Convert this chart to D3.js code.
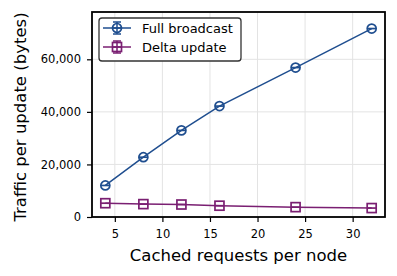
<!DOCTYPE html>
<html>
<head>
<meta charset="utf-8">
<script src="https://cdn.jsdelivr.net/npm/d3@7"></script>
<style>
  body { margin: 0; background: #fff; }
  text { font-family: "DejaVu Sans", sans-serif; }
</style>
</head>
<body>
<div id="chart"></div>
<script>
var requests = [4, 8, 12, 16, 24, 32];
var fullBroadcast = [12000, 22750, 32950, 42200, 56850, 71700];
var deltaUpdate = [5250, 4900, 4750, 4300, 3750, 3400];
var xTicks = [5, 10, 15, 20, 25, 30];
var yTicks = [0, 20000, 40000, 60000];
var seriesNames = ["Full broadcast", "Delta update"];

var w = 397, h = 276;
var plotLeft = 92, plotRight = 385, plotTop = 12, plotBottom = 217;

var blue = "#1f4e8f";
var purple = "#7a1f72";

var svg = d3.select("#chart").append("svg")
    .attr("width", w)
    .attr("height", h);

var x = d3.scaleLinear().domain([2.6, 33.4]).range([plotLeft, plotRight]);
var y = d3.scaleLinear().domain([0, 78000]).range([plotBottom, plotTop]);

// grid
svg.append("g").selectAll("line")
    .data(xTicks).enter().append("line")
    .attr("x1", function(d) { return x(d); })
    .attr("x2", function(d) { return x(d); })
    .attr("y1", plotTop).attr("y2", plotBottom)
    .attr("stroke", "#e3e3e3").attr("stroke-width", 1);
svg.append("g").selectAll("line")
    .data(yTicks).enter().append("line")
    .attr("x1", plotLeft).attr("x2", plotRight)
    .attr("y1", function(d) { return y(d); })
    .attr("y2", function(d) { return y(d); })
    .attr("stroke", "#e3e3e3").attr("stroke-width", 1);

// axes
var xAxis = svg.append("g")
    .attr("transform", "translate(0," + plotBottom + ")")
    .call(d3.axisBottom(x).tickValues(xTicks).tickSize(5).tickPadding(8));
var yAxis = svg.append("g")
    .attr("transform", "translate(" + plotLeft + ",0)")
    .call(d3.axisLeft(y).tickValues(yTicks).tickSize(5).tickPadding(6).tickFormat(d3.format(",")));
[xAxis, yAxis].forEach(function(a) {
    a.select(".domain").remove();
    a.selectAll("line").attr("stroke", "#000").attr("stroke-width", 1.2);
    a.selectAll("text").attr("fill", "#000").style("font-size", "11.5px");
});

// frame
svg.append("rect")
    .attr("x", plotLeft).attr("y", plotTop)
    .attr("width", plotRight - plotLeft).attr("height", plotBottom - plotTop)
    .attr("fill", "none").attr("stroke", "#000").attr("stroke-width", 1.8);

function drawMarker(g, color, shape) {
    if (shape == "circle") {
        g.append("circle").attr("r", 4.5)
            .attr("fill", "none").attr("stroke", color).attr("stroke-width", 1.7);
    } else {
        g.append("rect").attr("x", -4.5).attr("y", -4.5)
            .attr("width", 9).attr("height", 9)
            .attr("fill", "none").attr("stroke", color).attr("stroke-width", 1.7);
    }
    g.append("line").attr("x1", -4.5).attr("x2", 4.5)
        .attr("y1", 0).attr("y2", 0)
        .attr("stroke", color).attr("stroke-width", 1.7);
}

function drawSeries(vals, color, shape) {
    var line = d3.line()
        .x(function(d, i) { return x(requests[i]); })
        .y(function(d) { return y(d); });
    svg.append("path")
        .datum(vals)
        .attr("d", line)
        .attr("fill", "none")
        .attr("stroke", color)
        .attr("stroke-width", 1.5);
    var g = svg.append("g").selectAll("g")
        .data(vals).enter().append("g")
        .attr("transform", function(d, i) { return "translate(" + x(requests[i]) + "," + y(d) + ")"; });
    drawMarker(g, color, shape);
}

drawSeries(fullBroadcast, blue, "circle");
drawSeries(deltaUpdate, purple, "square");

// legend
var lg = svg.append("g");
lg.append("rect")
    .attr("x", 99).attr("y", 18)
    .attr("width", 142).attr("height", 43)
    .attr("rx", 3)
    .attr("fill", "#fff").attr("stroke", "#333").attr("stroke-width", 1.3);
var colors = [blue, purple];
var shapes = ["circle", "square"];
seriesNames.forEach(function(name, i) {
    var yy = 28 + i * 19;
    lg.append("line")
        .attr("x1", 103).attr("x2", 131)
        .attr("y1", yy).attr("y2", yy)
        .attr("stroke", colors[i]).attr("stroke-width", 1.5);
    var m = lg.append("g").attr("transform", "translate(117," + yy + ")");
    drawMarker(m, colors[i], shapes[i]);
    m.append("line").attr("x1", 0).attr("x2", 0).attr("y1", -6).attr("y2", 6)
        .attr("stroke", colors[i]).attr("stroke-width", 1.5);
    m.append("line").attr("x1", -4).attr("x2", 4).attr("y1", -6).attr("y2", -6)
        .attr("stroke", colors[i]).attr("stroke-width", 1.5);
    m.append("line").attr("x1", -4).attr("x2", 4).attr("y1", 6).attr("y2", 6)
        .attr("stroke", colors[i]).attr("stroke-width", 1.5);
    lg.append("text")
        .attr("x", 142).attr("y", yy + 4.5)
        .style("font-size", "13px")
        .attr("fill", "#000")
        .text(name);
});

// axis labels
svg.append("text")
    .attr("x", (plotLeft + plotRight) / 2).attr("y", 261)
    .attr("text-anchor", "middle")
    .style("font-size", "16.5px")
    .text("Cached requests per node");
svg.append("text")
    .attr("transform", "translate(26,117) rotate(-90)")
    .attr("text-anchor", "middle")
    .style("font-size", "16.5px")
    .text("Traffic per update (bytes)");
</script>
</body>
</html>
